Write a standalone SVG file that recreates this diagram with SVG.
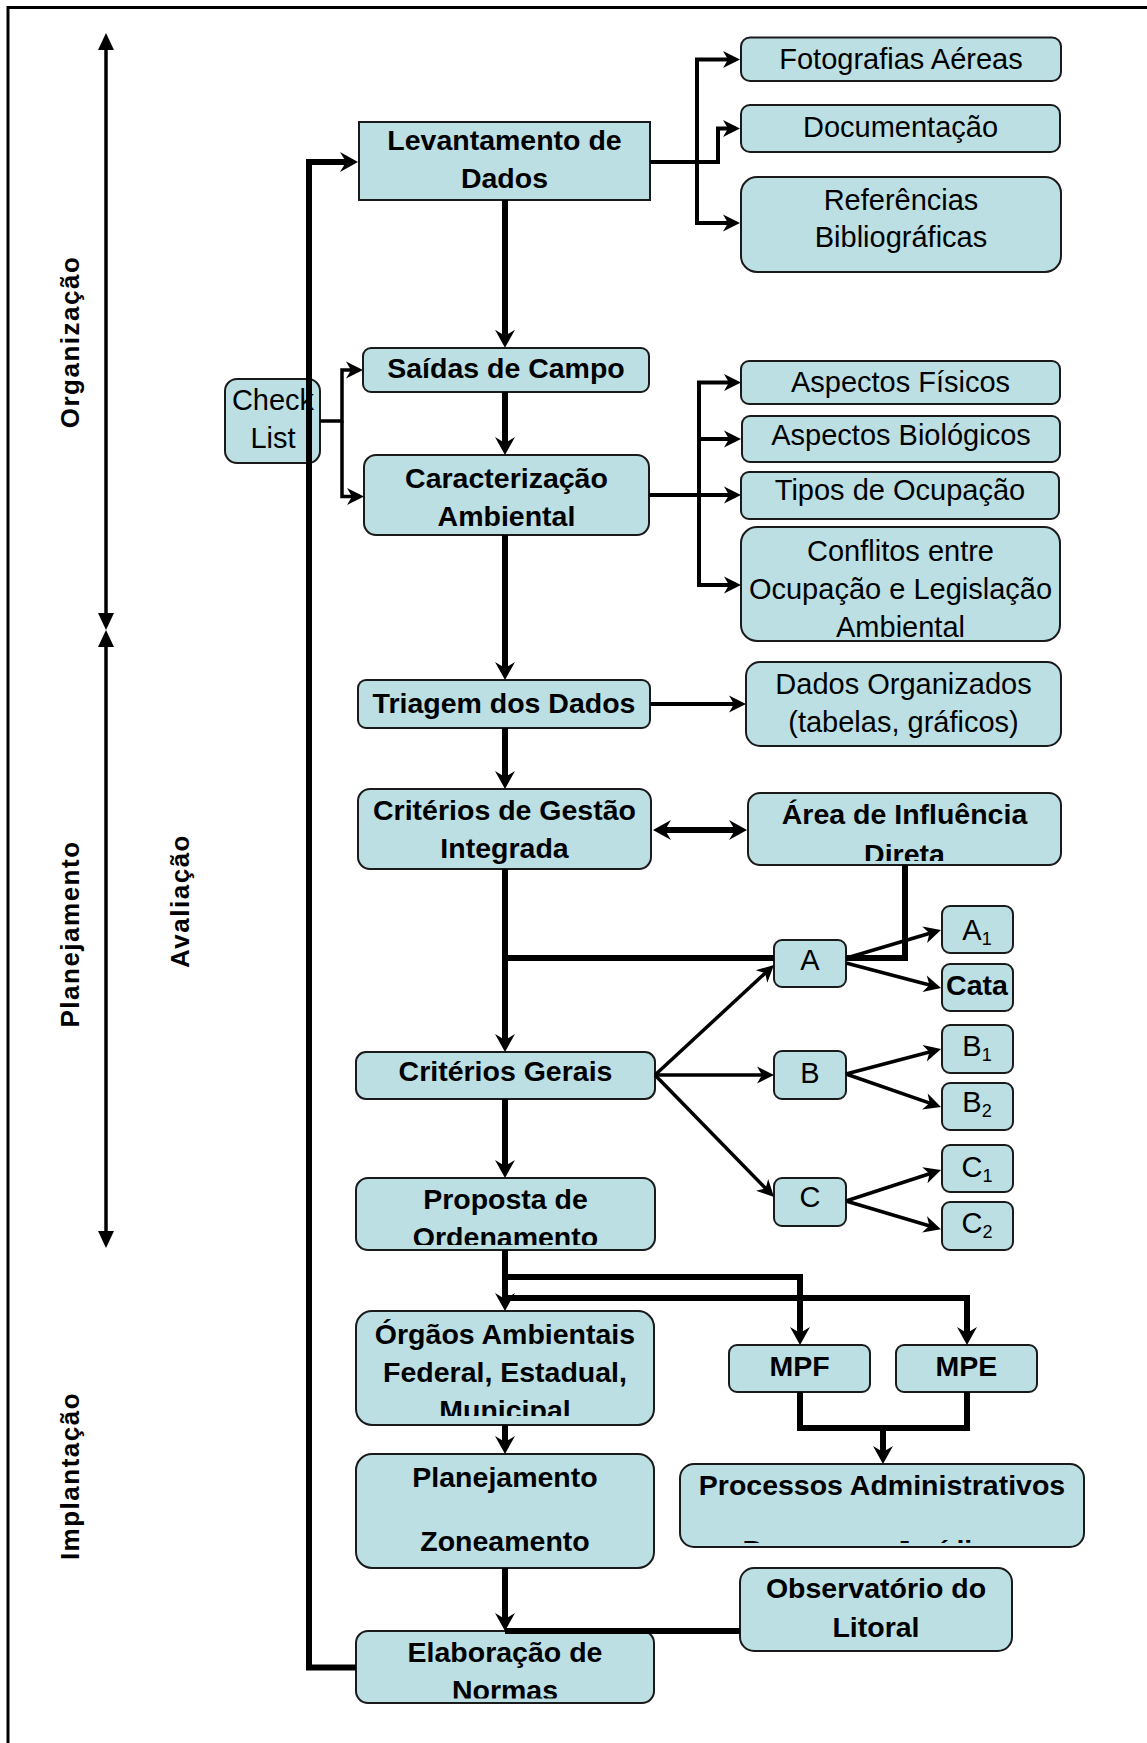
<svg xmlns="http://www.w3.org/2000/svg" width="1147" height="1743" viewBox="0 0 1147 1743">
<style>
.box{fill:#BBDFE3;stroke:#1a1a1a;stroke-width:2}
.tb{font-family:"Liberation Sans",Arial,sans-serif;font-weight:bold;font-size:28.5px;text-anchor:middle;fill:#000}
.tr{font-family:"Liberation Sans",Arial,sans-serif;font-size:29px;text-anchor:middle;fill:#000}
.ax{font-family:"Liberation Sans",Arial,sans-serif;font-weight:bold;font-size:26px;letter-spacing:1.5px;text-anchor:middle;fill:#000}
.ln{fill:none;stroke:#000;stroke-linejoin:miter}
.k{stroke-width:6}
.m{stroke-width:4}
.t{stroke-width:3.5}
</style>
<defs>
<marker id="big" viewBox="-12 -11 22 22" markerWidth="22" markerHeight="22" markerUnits="userSpaceOnUse" refX="0" refY="0" orient="auto"><path d="M8,0 L-10,-10 L-4,0 L-10,10 Z" fill="#000"/></marker>
<marker id="bigr" viewBox="-12 -11 22 22" markerWidth="22" markerHeight="22" markerUnits="userSpaceOnUse" refX="0" refY="0" orient="auto-start-reverse"><path d="M8,0 L-10,-10 L-4,0 L-10,10 Z" fill="#000"/></marker>
<marker id="mid" viewBox="-12 -10 22 20" markerWidth="22" markerHeight="20" markerUnits="userSpaceOnUse" refX="0" refY="0" orient="auto"><path d="M8,0 L-9,-8.5 L-4,0 L-9,8.5 Z" fill="#000"/></marker>
<marker id="tri" viewBox="-9 -9 21 18" markerWidth="21" markerHeight="18" markerUnits="userSpaceOnUse" refX="0" refY="0" orient="auto-start-reverse"><path d="M10,0 L-7,-8 L-7,8 Z" fill="#000"/></marker>
<clipPath id="c-area"><rect x="748" y="793" width="313" height="68"/></clipPath>
<clipPath id="c-prop"><rect x="356" y="1178" width="299" height="67"/></clipPath>
<clipPath id="c-org"><rect x="356" y="1311" width="298" height="105"/></clipPath>
<clipPath id="c-proc"><rect x="680" y="1464" width="404" height="79"/></clipPath>
<clipPath id="c-elab"><rect x="356" y="1631" width="298" height="67.5"/></clipPath>
<clipPath id="c-conf"><rect x="741" y="527" width="319" height="112"/></clipPath>
</defs>
<rect width="1147" height="1743" fill="#fff"/>
<path d="M8,1750 V7.5 H1150" fill="none" stroke="#000" stroke-width="3"/>

<g id="axis">
<path class="ln t" d="M106,620 V43" marker-start="url(#tri)" marker-end="url(#tri)"/>
<path class="ln t" d="M106,640 V1238" marker-start="url(#tri)" marker-end="url(#tri)"/>
<text class="ax" transform="translate(79,342) rotate(-90)">Organização</text>
<text class="ax" transform="translate(79,934) rotate(-90)">Planejamento</text>
<text class="ax" transform="translate(189,901) rotate(-90)">Avaliação</text>
<text class="ax" transform="translate(79,1476) rotate(-90)">Implantação</text>
</g>

<g id="n-levantamento"><rect class="box" x="359" y="122" width="291" height="78"/><text class="tb" x="504.5" y="150">Levantamento de</text><text class="tb" x="504.5" y="188">Dados</text></g>
<g id="n-fotografias"><rect class="box" x="741" y="37.5" width="320" height="43.5" rx="9"/><text class="tr" x="901" y="69">Fotografias Aéreas</text></g>
<g id="n-documentacao"><rect class="box" x="741" y="105" width="319" height="47" rx="9"/><text class="tr" x="900.5" y="137">Documentação</text></g>
<g id="n-referencias"><rect class="box" x="741" y="177" width="320" height="95" rx="16"/><text class="tr" x="901" y="210">Referências</text><text class="tr" x="901" y="247">Bibliográficas</text></g>
<g id="n-checklist"><rect class="box" x="225" y="379" width="95" height="84" rx="12"/><text class="tr" x="273" y="410">Check</text><text class="tr" x="273" y="448">List</text></g>
<g id="n-saidas"><rect class="box" x="363" y="348" width="286" height="44" rx="8"/><text class="tb" x="506" y="378">Saídas de Campo</text></g>
<g id="n-caracterizacao"><rect class="box" x="364" y="455" width="285" height="80" rx="12"/><text class="tb" x="506.5" y="488">Caracterização</text><text class="tb" x="506.5" y="526">Ambiental</text></g>
<g id="n-fisicos"><rect class="box" x="741" y="361" width="319" height="43" rx="8"/><text class="tr" x="900.5" y="392">Aspectos Físicos</text></g>
<g id="n-biologicos"><rect class="box" x="742" y="416" width="318" height="46" rx="8"/><text class="tr" x="901" y="445">Aspectos Biológicos</text></g>
<g id="n-tipos"><rect class="box" x="741" y="472" width="318" height="47" rx="8"/><text class="tr" x="900" y="500">Tipos de Ocupação</text></g>
<g id="n-conflitos"><rect class="box" x="741" y="527" width="319" height="114" rx="16"/><g clip-path="url(#c-conf)"><text class="tr" x="900.5" y="561">Conflitos entre</text><text class="tr" x="900.5" y="599">Ocupação e Legislação</text><text class="tr" x="900.5" y="637">Ambiental</text></g></g>
<g id="n-triagem"><rect class="box" x="358" y="680" width="292" height="48" rx="8"/><text class="tb" x="504" y="713">Triagem dos Dados</text></g>
<g id="n-dados-organizados"><rect class="box" x="746" y="662" width="315" height="84" rx="14"/><text class="tr" x="903.5" y="694">Dados Organizados</text><text class="tr" x="903.5" y="732">(tabelas, gráficos)</text></g>
<g id="n-criterios-gestao"><rect class="box" x="358" y="789" width="293" height="80" rx="12"/><text class="tb" x="504.5" y="820">Critérios de Gestão</text><text class="tb" x="504.5" y="858">Integrada</text></g>
<g id="n-area"><rect class="box" x="748" y="793" width="313" height="72" rx="12"/><g clip-path="url(#c-area)"><text class="tb" x="904.5" y="824">Área de Influência</text><text class="tb" x="904.5" y="864">Direta</text></g></g>
<g id="n-a"><rect class="box" x="774" y="940" width="72" height="47" rx="8"/><text class="tr" x="810" y="970">A</text></g>
<g id="n-a1"><rect class="box" x="942" y="906" width="71" height="47" rx="8"/><text class="tr" x="977" y="940">A<tspan font-size="18" dy="5">1</tspan></text></g>
<g id="n-cata"><rect class="box" x="942" y="964" width="71" height="47" rx="8"/><text class="tb" x="977" y="995">Cata</text></g>
<g id="n-b"><rect class="box" x="774" y="1051" width="72" height="48" rx="8"/><text class="tr" x="810" y="1083">B</text></g>
<g id="n-b1"><rect class="box" x="942" y="1025" width="71" height="48" rx="8"/><text class="tr" x="977" y="1056">B<tspan font-size="18" dy="5">1</tspan></text></g>
<g id="n-b2"><rect class="box" x="942" y="1083" width="71" height="47" rx="8"/><text class="tr" x="977" y="1112">B<tspan font-size="18" dy="5">2</tspan></text></g>
<g id="n-c"><rect class="box" x="774" y="1178" width="72" height="48" rx="8"/><text class="tr" x="810" y="1207">C</text></g>
<g id="n-c1"><rect class="box" x="942" y="1145" width="71" height="47" rx="8"/><text class="tr" x="977" y="1177">C<tspan font-size="18" dy="5">1</tspan></text></g>
<g id="n-c2"><rect class="box" x="942" y="1202" width="71" height="48" rx="8"/><text class="tr" x="977" y="1233">C<tspan font-size="18" dy="5">2</tspan></text></g>
<g id="n-criterios-gerais"><rect class="box" x="356" y="1052" width="299" height="47" rx="10"/><text class="tb" x="505.5" y="1081">Critérios Gerais</text></g>
<g id="n-proposta"><rect class="box" x="356" y="1178" width="299" height="72" rx="12"/><g clip-path="url(#c-prop)"><text class="tb" x="505.5" y="1209">Proposta de</text><text class="tb" x="505.5" y="1247">Ordenamento</text></g></g>
<g id="n-orgaos"><rect class="box" x="356" y="1311" width="298" height="114" rx="16"/><g clip-path="url(#c-org)"><text class="tb" x="505" y="1344">Órgãos Ambientais</text><text class="tb" x="505" y="1382">Federal, Estadual,</text><text class="tb" x="505" y="1420">Municipal</text></g></g>
<g id="n-mpf"><rect class="box" x="729" y="1345" width="141" height="47" rx="8"/><text class="tb" x="799.5" y="1376">MPF</text></g>
<g id="n-mpe"><rect class="box" x="896" y="1345" width="141" height="47" rx="8"/><text class="tb" x="966.5" y="1376">MPE</text></g>
<g id="n-processos"><rect class="box" x="680" y="1464" width="404" height="83" rx="14"/><g clip-path="url(#c-proc)"><text class="tb" x="882" y="1495">Processos Administrativos</text><text class="tb" x="882" y="1560">Processos Jurídicos</text></g></g>
<g id="n-planejamento"><rect class="box" x="356" y="1454" width="298" height="114" rx="16"/><text class="tb" x="505" y="1487">Planejamento</text><text class="tb" x="505" y="1551">Zoneamento</text></g>
<g id="n-observatorio"><rect class="box" x="740" y="1568" width="272" height="83" rx="14"/><text class="tb" x="876" y="1598">Observatório do</text><text class="tb" x="876" y="1637">Litoral</text></g>
<g id="n-elaboracao"><rect class="box" x="356" y="1631" width="298" height="72" rx="12"/><g clip-path="url(#c-elab)"><text class="tb" x="505" y="1662">Elaboração de</text><text class="tb" x="505" y="1700">Normas</text></g></g>

<g id="connectors">
<path class="ln k" d="M356,1667.5 H309 V162 H350" marker-end="url(#big)"/>
<path class="ln k" d="M505,200 V339.7" marker-end="url(#big)"/>
<path class="ln k" d="M505,392 V447" marker-end="url(#big)"/>
<path class="ln k" d="M505,535 V672" marker-end="url(#big)"/>
<path class="ln k" d="M505,728 V781" marker-end="url(#big)"/>
<path class="ln k" d="M505,869 V1044" marker-end="url(#big)"/>
<path class="ln k" d="M505,958 H774"/>
<path class="ln k" d="M846,958 H905 V865"/>
<path class="ln k" d="M661,830 H739" marker-start="url(#bigr)" marker-end="url(#bigr)"/>
<path class="ln k" d="M505,1099 V1170" marker-end="url(#big)"/>
<path class="ln k" d="M505,1250 V1303" marker-end="url(#big)"/>
<path class="ln k" d="M505,1277 H800 V1337" marker-end="url(#big)"/>
<path class="ln k" d="M505,1298 H967 V1337" marker-end="url(#big)"/>
<path class="ln k" d="M800,1392 V1428 H967 V1392"/>
<path class="ln k" d="M883,1428 V1456" marker-end="url(#big)"/>
<path class="ln k" d="M505,1425 V1446" marker-end="url(#big)"/>
<path class="ln k" d="M505,1568 V1623" marker-end="url(#big)"/>
<path class="ln k" d="M740,1631 H505"/>
<path class="ln m" d="M650,162 H718 V128.5 H732" marker-end="url(#mid)"/>
<path class="ln m" d="M697,162 V59.5 H732" marker-end="url(#mid)"/>
<path class="ln m" d="M697,162 V223 H732" marker-end="url(#mid)"/>
<path class="ln m" d="M649,495 H733" marker-end="url(#mid)"/>
<path class="ln m" d="M699,495 V382.5 H733" marker-end="url(#mid)"/>
<path class="ln m" d="M699,439 H733" marker-end="url(#mid)"/>
<path class="ln m" d="M699,495 V585 H733" marker-end="url(#mid)"/>
<path class="ln t" d="M320,421 H342 V370 H355" marker-end="url(#mid)"/>
<path class="ln t" d="M342,421 V496.5 H356" marker-end="url(#mid)"/>
<path class="ln m" d="M650,704 H738" marker-end="url(#mid)"/>
<path class="ln t" d="M655,1075 L768.1,970.4" marker-end="url(#mid)"/>
<path class="ln t" d="M655,1075 H766" marker-end="url(#mid)"/>
<path class="ln t" d="M655,1075 L768.4,1191.3" marker-end="url(#mid)"/>
<path class="ln t" d="M850,957 L933.3,932.2" marker-end="url(#mid)"/>
<path class="ln t" d="M846,963 L933.3,986" marker-end="url(#mid)"/>
<path class="ln t" d="M846,1074 L933.3,1051" marker-end="url(#mid)"/>
<path class="ln t" d="M846,1074 L933.4,1104.4" marker-end="url(#mid)"/>
<path class="ln t" d="M846,1201 L933.4,1172.5" marker-end="url(#mid)"/>
<path class="ln t" d="M846,1201 L933.2,1227" marker-end="url(#mid)"/>
</g>
</svg>
